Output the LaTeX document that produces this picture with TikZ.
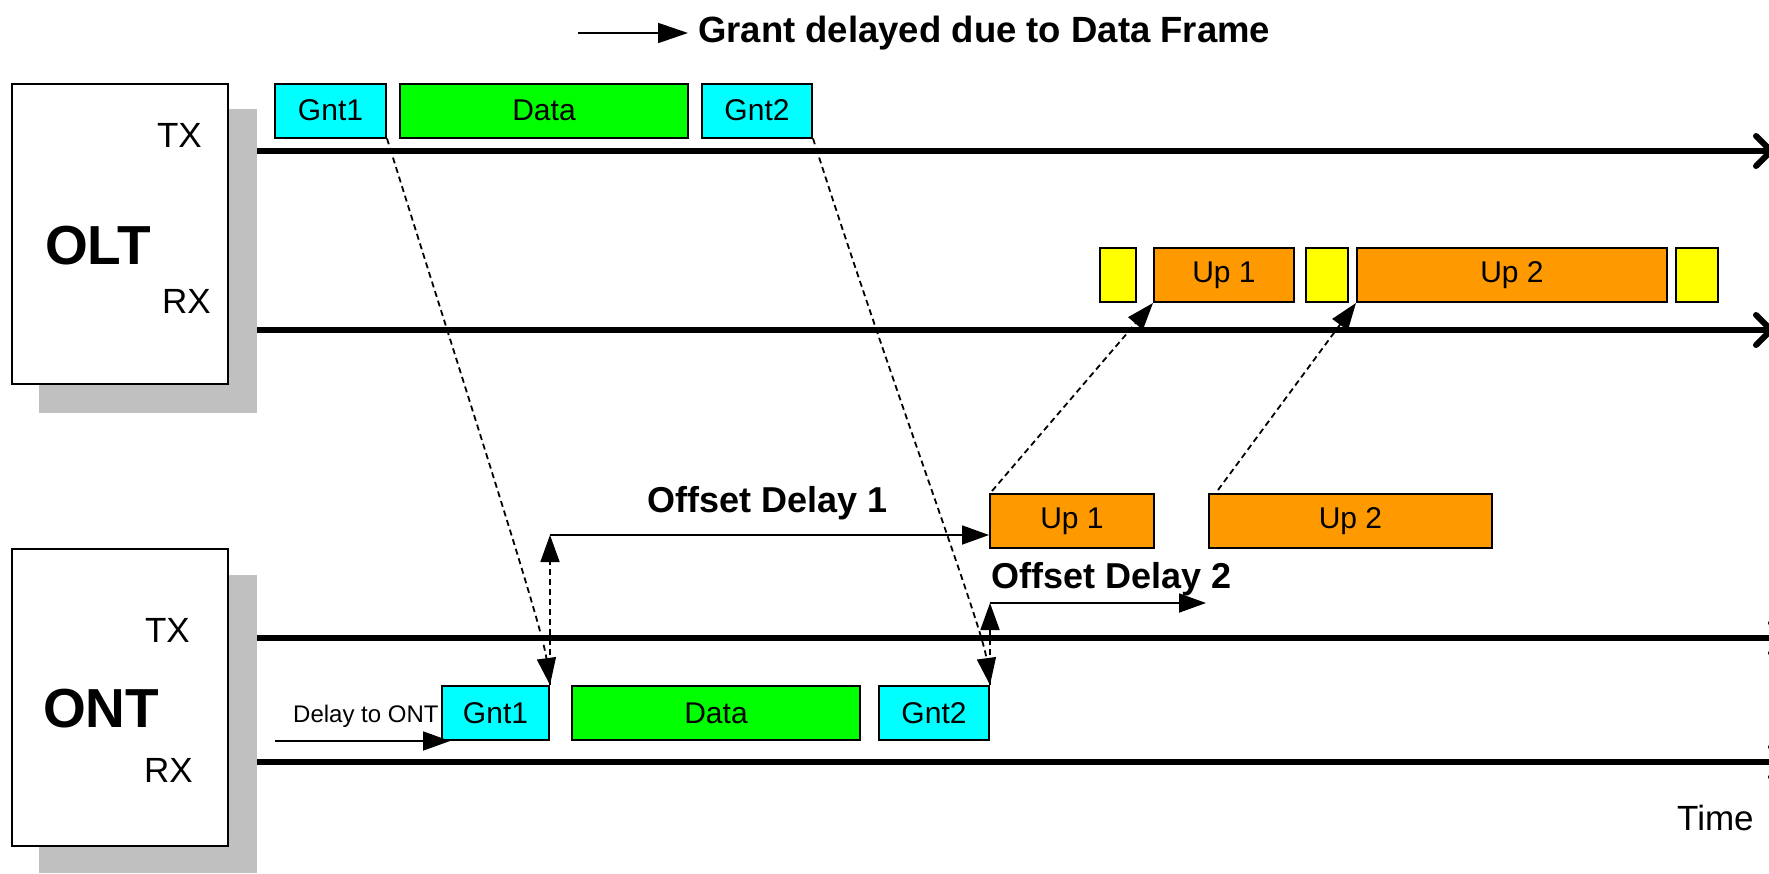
\documentclass[tikz,border=0pt]{standalone}
\usepackage{fontspec}
\setmainfont{Liberation Sans}
\usetikzlibrary{arrows.meta,calc}
\definecolor{gcyan}{RGB}{0,255,255}
\definecolor{ggreen}{RGB}{0,255,0}
\definecolor{gorange}{RGB}{255,153,0}
\definecolor{gyellow}{RGB}{255,255,0}
\definecolor{gshadow}{RGB}{192,192,192}
\newcommand\fsz[1]{\fontsize{#1}{#1}\selectfont}
\begin{document}
\begin{tikzpicture}[x=1pt,y=-1pt,
  frame/.style={draw=black, line width=2pt, inner sep=0pt, minimum height=54pt, font=\fsz{30}},
  cyanbox/.style={frame, fill=gcyan},
  greenbox/.style={frame, fill=ggreen},
  orangebox/.style={frame, fill=gorange},
  yellowbox/.style={frame, fill=gyellow},
  unit/.style={draw=black, line width=2pt, fill=white, inner sep=0pt, minimum width=216pt},
  shadowbox/.style={fill=gshadow},
  timeline/.style={line width=6pt},
  chev/.style={line width=6pt, line cap=round, line join=round},
  tip/.style={-{Triangle[length=27pt,width=19pt]}},
  dasharrow/.style={tip, line width=1.8pt, dash pattern=on 6pt off 4pt},
  solidarrow/.style={tip, line width=1.8pt},
  lbl/.style={inner sep=0pt, font=\fsz{35}, anchor=base east},
  boldlbl/.style={inner sep=0pt, font=\bfseries\fsz{36}, anchor=base west},
  bigbold/.style={inner sep=0pt, font=\bfseries\fsz{55}, anchor=base west},
]
\useasboundingbox (0,0) rectangle (1769,873);

% title
\node[boldlbl, font=\bfseries\fsz{36.5}, anchor=west] (title) at (698,33) {Grant delayed due to Data Frame};
\coordinate (ta0) at (578,33);
\draw[line width=1.8pt, -{Triangle[length=30pt,width=20pt]}] (ta0) -- ([xshift=-10pt]title.west);

% OLT unit
\fill[shadowbox] (39,109) rectangle (257,413);
\node[unit, minimum height=300pt] (olt) at (120,234) {};
\node[bigbold] (oltname) at (45,264) {OLT};
\node[lbl] (olttxl) at (202,147) {TX};
\node[lbl] (oltrxl) at (211,313) {RX};

% ONT unit
\fill[shadowbox] (39,575) rectangle (257,873);
\node[unit, minimum height=297pt] (ont) at (120,697.5) {};
\node[bigbold] (ontname) at (43,727) {ONT};
\node[lbl] (onttxl) at (190,642) {TX};
\node[lbl] (ontrxl) at (193,782) {RX};

% timelines
\coordinate (otx0) at (257,151); \coordinate (otx1) at (1771,151);
\coordinate (orx0) at (257,330); \coordinate (orx1) at (1771,330);
\coordinate (ntx0) at (257,638); \coordinate (ntx1) at (1786,638);
\coordinate (nrx0) at (257,762); \coordinate (nrx1) at (1786,762);
\foreach \a/\b in {otx0/otx1, orx0/orx1, ntx0/ntx1, nrx0/nrx1}{
  \draw[timeline] (\a) -- (\b);
  \draw[chev] ($(\b)+(-15,-15)$) -- (\b) -- ($(\b)+(-15,15)$);
}
\node[inner sep=0pt, font=\fsz{35}, anchor=base west] (time) at (1677,830) {Time};

% OLT TX frames
\node[cyanbox, minimum width=111pt] (g1t) at (330.5,110.5) {Gnt1};
\node[greenbox, minimum width=288pt] (dt) at (544,110.5) {Data};
\node[cyanbox, minimum width=110pt] (g2t) at (757,110.5) {Gnt2};

% OLT RX frames
\node[yellowbox, minimum width=36pt] (y1) at (1118,275) {};
\node[orangebox, minimum width=140pt] (u1t) at (1224,275) {Up 1};
\node[yellowbox, minimum width=42pt] (y2) at (1327,275) {};
\node[orangebox, minimum width=310pt] (u2t) at (1512,275) {Up 2};
\node[yellowbox, minimum width=42pt] (y3) at (1697,275) {};

% ONT TX frames
\node[orangebox, minimum width=164pt] (u1m) at (1072,521) {Up 1};
\node[orangebox, minimum width=283pt] (u2m) at (1350.5,521) {Up 2};

% ONT RX frames
\node[cyanbox, minimum width=107pt] (g1b) at (495.5,713) {Gnt1};
\node[greenbox, minimum width=288pt] (db) at (716,713) {Data};
\node[cyanbox, minimum width=110pt] (g2b) at (934,713) {Gnt2};

% delay to ONT
\node[inner sep=0pt, font=\fsz{24}, anchor=base west] (dlabel) at (293,722) {Delay to ONT};
\coordinate (dl1) at ($(g1b.south west)+(9,0)$);
\coordinate (dl0) at (275,0 |- dl1);
\draw[solidarrow] (dl0) -- (dl1);

% grants travelling down
\draw[dasharrow] (g1t.south east) .. controls +(78,250) and +(-8,-60) .. (g1b.north east);
\draw[dasharrow] (g2t.south east) .. controls +(80,250) and +(-8,-60) .. (g2b.north east);

% offset delay 1
\coordinate (od1) at ($(g1b.north east)+(0,-150)$);
\draw[dasharrow] (g1b.north east) -- (od1);
\draw[solidarrow] (od1) -- (od1 -| u1m.west);
\node[boldlbl] (od1l) at (647,512) {Offset Delay 1};

% offset delay 2
\coordinate (od2) at ($(g2b.north east)+(0,-82)$);
\coordinate (od2e) at ($(od2)+(216,0)$);
\draw[dasharrow] (g2b.north east) -- (od2);
\draw[solidarrow] (od2) -- (od2e);
\node[boldlbl] (od2l) at (991,588) {Offset Delay 2};

% upstream travelling up
\draw[dasharrow] ($(u1m.north west)+(3,-2)$) -- (u1t.south west);
\draw[dasharrow] ($(u2m.north west)+(10,-3)$) -- (u2t.south west);
\end{tikzpicture}
\end{document}
